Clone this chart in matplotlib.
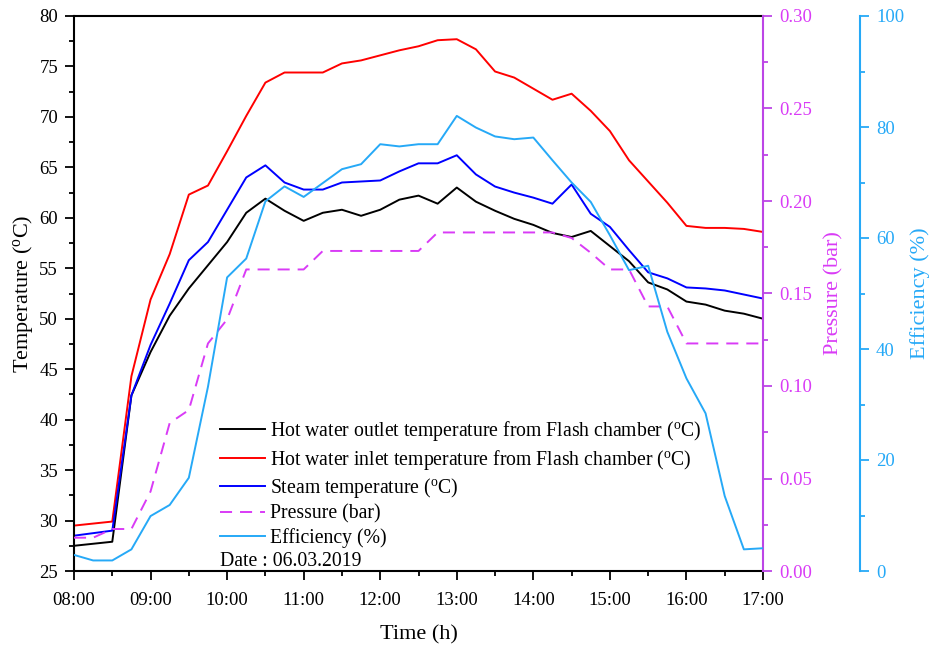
import matplotlib
matplotlib.use("Agg")
import matplotlib.pyplot as plt
from matplotlib.ticker import MultipleLocator, FixedLocator

plt.rcParams['font.family'] = ['Liberation Serif', 'DejaVu Serif']
plt.rcParams['mathtext.fontset'] = 'custom'
plt.rcParams['mathtext.rm'] = 'Liberation Serif'
plt.rcParams['mathtext.it'] = 'Liberation Serif:italic'
plt.rcParams['mathtext.bf'] = 'Liberation Serif:bold'

times = ["08:00", "08:15", "08:30", "08:45", "09:00", "09:15", "09:30", "09:45",
         "10:00", "10:15", "10:30", "10:45", "11:00", "11:15", "11:30", "11:45",
         "12:00", "12:15", "12:30", "12:45", "13:00", "13:15", "13:30", "13:45",
         "14:00", "14:15", "14:30", "14:45", "15:00", "15:15", "15:30", "15:45",
         "16:00", "16:15", "16:30", "16:45", "17:00"]

outlet_temp = [27.5, 27.7, 27.9, 42.4, 46.7, 50.3, 53.0, 55.3,
               57.6, 60.5, 61.9, 60.7, 59.7, 60.5, 60.8, 60.2,
               60.8, 61.8, 62.2, 61.4, 63.0, 61.6, 60.7, 59.9,
               59.3, 58.5, 58.1, 58.7, 57.2, 55.7, 53.6, 52.9,
               51.7, 51.4, 50.8, 50.5, 50.0]

inlet_temp = [29.5, 29.7, 29.9, 44.3, 51.9, 56.4, 62.3, 63.2,
              66.6, 70.1, 73.4, 74.4, 74.4, 74.4, 75.3, 75.6,
              76.1, 76.6, 77.0, 77.6, 77.7, 76.7, 74.5, 73.9,
              72.8, 71.7, 72.3, 70.6, 68.6, 65.7, 63.6, 61.5,
              59.2, 59.0, 59.0, 58.9, 58.6]

steam_temp = [28.5, 28.75, 29.0, 42.4, 47.4, 51.5, 55.8, 57.6,
              60.8, 64.0, 65.2, 63.5, 62.8, 62.8, 63.5, 63.6,
              63.7, 64.6, 65.4, 65.4, 66.2, 64.3, 63.1, 62.5,
              62.0, 61.4, 63.3, 60.4, 59.1, 56.8, 54.6, 54.0,
              53.1, 53.0, 52.8, 52.4, 52.0]

pressure = [0.018, 0.018, 0.0227, 0.0227, 0.043, 0.080, 0.087, 0.123,
            0.136, 0.163, 0.163, 0.163, 0.163, 0.173, 0.173, 0.173,
            0.173, 0.173, 0.173, 0.183, 0.183, 0.183, 0.183, 0.183,
            0.183, 0.183, 0.180, 0.172, 0.163, 0.163, 0.143, 0.143,
            0.123, 0.123, 0.123, 0.123, 0.123]

efficiency = [2.9, 1.9, 1.9, 3.9, 9.9, 11.9, 16.8, 33.2,
              52.9, 56.3, 66.6, 69.3, 67.4, 69.9, 72.4, 73.3,
              76.9, 76.5, 76.9, 76.9, 82.0, 79.9, 78.3, 77.8,
              78.1, 74.0, 70.0, 66.5, 60.5, 54.2, 55.0, 43.1,
              34.7, 28.4, 13.5, 3.9, 4.1]

hour_labels = ["08:00", "09:00", "10:00", "11:00", "12:00", "13:00",
               "14:00", "15:00", "16:00", "17:00"]

labels = ["Hot water outlet temperature from Flash chamber ($\\mathregular{^o}$C)",
          "Hot water inlet temperature from Flash chamber ($\\mathregular{^o}$C)",
          "Steam temperature ($\\mathregular{^o}$C)",
          "Pressure (bar)",
          "Efficiency (%)"]

def to_h(s):
    h, m = s.split(":")
    return int(h) + int(m) / 60.0

x = [to_h(t) for t in times]
hour_pos = [to_h(t) for t in hour_labels]

PCOL = '#D93BF6'
PSPINE = '#BC45E6'
ECOL = '#26A9F7'
TICK_FS = 13.5
LAB_FS = 16

fig = plt.figure(figsize=(9.30, 6.49), dpi=100)
ax = fig.add_axes([74/930, 1-571/649, (763-74)/930, (571-16)/649])
ax2 = ax.twinx()
ax3 = ax.twinx()

lw = 1.4
l1, = ax.plot(x, outlet_temp, color='black', lw=lw)
l2, = ax.plot(x, inlet_temp, color='#FF0000', lw=lw)
l3, = ax.plot(x, steam_temp, color='#0000FF', lw=lw)
l4, = ax2.plot(x, pressure, color=PCOL, lw=lw, dashes=(6.2, 4.1))
l5, = ax3.plot(x, efficiency, color=ECOL, lw=lw)

ax.set_xlim(8, 17)
ax.set_ylim(25, 80)
ax2.set_ylim(0, 0.30)
ax3.set_ylim(0, 100)

ax.xaxis.set_major_locator(FixedLocator(hour_pos))
ax.set_xticklabels(hour_labels)
ax.xaxis.set_minor_locator(MultipleLocator(0.5))
ax.yaxis.set_major_locator(MultipleLocator(5))
ax.yaxis.set_minor_locator(MultipleLocator(2.5))
ax2.yaxis.set_major_locator(MultipleLocator(0.05))
ax2.yaxis.set_minor_locator(MultipleLocator(0.025))
ax2.yaxis.set_major_formatter(matplotlib.ticker.FormatStrFormatter('%.2f'))
ax3.yaxis.set_major_locator(MultipleLocator(20))
ax3.yaxis.set_minor_locator(MultipleLocator(10))

spw = 1.5
for s in ax.spines.values():
    s.set_linewidth(spw)
ax.spines['right'].set_visible(False)
for a in (ax2, ax3):
    for k in ('left', 'top', 'bottom'):
        a.spines[k].set_visible(False)
ax2.spines['right'].set_color(PSPINE)
ax2.spines['right'].set_linewidth(spw)
ax3.spines['right'].set_color(ECOL)
ax3.spines['right'].set_linewidth(spw)
ax3.spines['right'].set_position(('outward', 69.8))

ax.tick_params(axis='both', which='major', direction='out', length=6.5, width=1.3,
               labelsize=TICK_FS, pad=5, colors='black')
ax.tick_params(axis='x', which='major', pad=8.5)
ax.tick_params(axis='both', which='minor', direction='out', length=3.5, width=1.3)
ax.tick_params(axis='x', top=False, which='both')
ax2.tick_params(axis='y', which='major', direction='out', length=6.5, width=1.3,
                labelsize=TICK_FS, pad=5, color=PSPINE, labelcolor=PCOL)
ax2.tick_params(axis='y', which='minor', direction='out', length=3.5, width=1.3, color=PSPINE)
ax3.tick_params(axis='y', which='major', direction='out', length=6.5, width=1.3,
                labelsize=TICK_FS, pad=5, color=ECOL, labelcolor=ECOL)
ax3.tick_params(axis='y', which='minor', direction='out', length=3.5, width=1.3, color=ECOL)

ax.set_xlabel("Time (h)", fontsize=LAB_FS, labelpad=12)
ax.set_ylabel("Temperature ($\\mathregular{^o}$C)", fontsize=LAB_FS, labelpad=3)
ax2.set_ylabel("Pressure (bar)", fontsize=LAB_FS, color=PCOL, labelpad=9)
ax3.set_ylabel("Efficiency (%)", fontsize=LAB_FS, color=ECOL, labelpad=4)

leg = ax3.legend([l1, l2, l3, l4, l5], labels, loc='upper left',
                 bbox_to_anchor=((220-74)/689, (571-419)/555), frameon=False,
                 fontsize=14.2, handlelength=2.3, handletextpad=0.22,
                 labelspacing=0.23, borderpad=0, borderaxespad=0)
ax3.text((220-74)/689, (571-561)/555, "Date : 06.03.2019", transform=ax3.transAxes,
         fontsize=14.2, va='center', ha='left')

fig.savefig("out.png", dpi=100)
